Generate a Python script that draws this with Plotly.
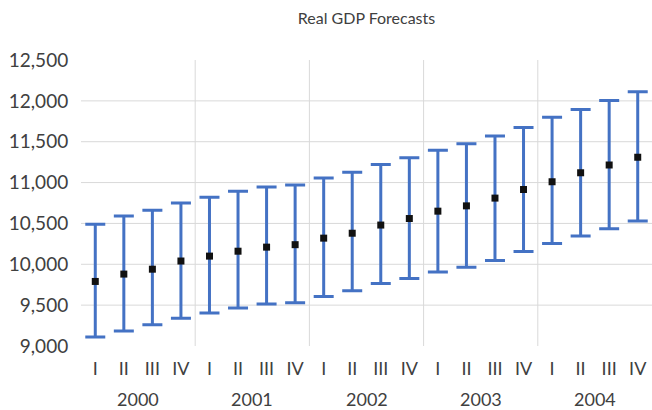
import plotly.graph_objects as go

years = ["2000", "2001", "2002", "2003", "2004"]
quarters = ["I", "II", "III", "IV"]
forecast = [9790, 9880, 9940, 10040, 10100, 10160, 10210, 10240, 10320, 10380,
            10480, 10560, 10650, 10715, 10810, 10915, 11010, 11120, 11215, 11310]
high = [10490, 10590, 10660, 10750, 10820, 10895, 10945, 10970, 11055, 11125,
        11220, 11305, 11395, 11475, 11570, 11675, 11800, 11895, 12005, 12110]
low = [9110, 9185, 9260, 9340, 9405, 9465, 9515, 9530, 9605, 9675,
       9765, 9825, 9905, 9965, 10045, 10155, 10255, 10345, 10435, 10530]
y_ticks = [9000, 9500, 10000, 10500, 11000, 11500, 12000, 12500]

n = len(forecast)
xs = list(range(n))
qlabels = [quarters[i % 4] for i in range(n)]

font_family = "Lato, 'Open Sans', sans-serif"
text_col = "#404040"

fig = go.Figure()
fig.add_trace(go.Scatter(
    x=xs, y=forecast, mode="markers",
    marker=dict(symbol="square", size=7, color="#111111"),
    error_y=dict(type="data", symmetric=False,
                 array=[h - m for h, m in zip(high, forecast)],
                 arrayminus=[m - l for m, l in zip(forecast, low)],
                 color="#4472C4", thickness=3, width=10),
    showlegend=False,
))

shapes = []
for k in range(1, len(years)):
    shapes.append(dict(type="line", xref="x", yref="paper",
                       x0=4 * k - 0.5, x1=4 * k - 0.5, y0=0, y1=1,
                       line=dict(color="#d9d9d9", width=1), layer="below"))
for v in y_ticks[1:-1]:
    shapes.append(dict(type="line", xref="paper", yref="y",
                       x0=0, x1=1, y0=v, y1=v,
                       line=dict(color="#d9d9d9", width=1), layer="below"))

annotations = []
for k, yr in enumerate(years):
    annotations.append(dict(x=4 * k + 1.5, y=0, xref="x", yref="paper",
                            text=yr, showarrow=False, yanchor="middle",
                            yshift=-53, font=dict(size=18, color=text_col,
                                                  family=font_family)))

fig.update_layout(
    width=652, height=410,
    margin=dict(l=81, r=0, t=60, b=64),
    paper_bgcolor="white", plot_bgcolor="white",
    title=dict(text="Real GDP Forecasts", x=0.5, xref="paper", y=0.955,
               yanchor="middle",
               font=dict(size=16, color=text_col, family=font_family)),
    font=dict(family=font_family, color=text_col),
    xaxis=dict(range=[-0.5, n - 0.5], tickmode="array", tickvals=xs,
               ticktext=qlabels, showgrid=False, zeroline=False,
               ticks="outside", ticklen=6, tickcolor="rgba(0,0,0,0)",
               tickfont=dict(size=18, color=text_col), showline=False),
    yaxis=dict(range=[y_ticks[0], y_ticks[-1]], tickmode="array",
               tickvals=y_ticks, ticktext=[f"{v:,}" for v in y_ticks],
               showgrid=False, zeroline=False,
               ticks="outside", ticklen=8, tickcolor="rgba(0,0,0,0)",
               tickfont=dict(size=19, color=text_col), showline=False),
    shapes=shapes, annotations=annotations,
)

fig.write_html("out.html", config={"displayModeBar": False},
               post_script="document.body.style.margin='0px';document.body.style.overflow='hidden';")
